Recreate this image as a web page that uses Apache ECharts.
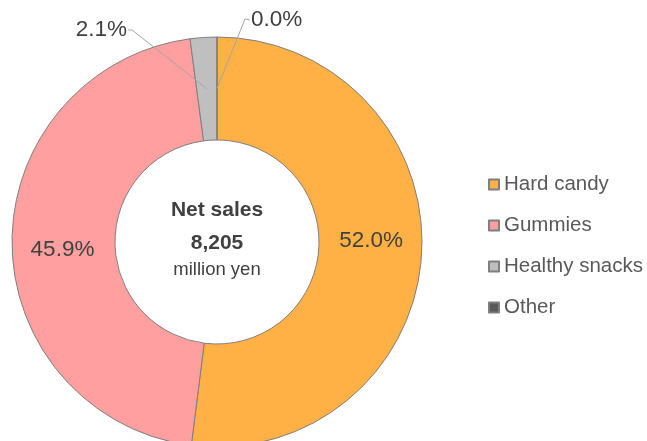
<!DOCTYPE html>
<html>
<head>
<meta charset="utf-8">
<script src="https://cdn.jsdelivr.net/npm/echarts@6/dist/echarts.min.js"></script>
<style>
  html, body { margin: 0; padding: 0; background: #fff; }
  #chart { width: 647px; height: 441px; }
</style>
</head>
<body>
<div id="chart"></div>
<script>
// segment data (share of net sales, %)
const categories = ['Hard candy', 'Gummies', 'Healthy snacks', 'Other'];
const shares = [52.0, 45.9, 2.1, 0.0];
const colors = ['#FFB145', '#FF9F9F', '#BFBFBF', '#595959'];
const centerLines = ['Net sales', '8,205', 'million yen'];

const FONT = '"Liberation Sans", Arial, sans-serif';
const cx = 217, cy = 242, rIn = 102, rOut = 205;
const total = shares.reduce((a, b) => a + b, 0);

// mid-ring point for slice i (clockwise from 12 o'clock)
function midPoint(i) {
    let before = 0;
    for (let k = 0; k < i; k++) before += shares[k];
    const ang = (before + shares[i] / 2) / total * Math.PI * 2;
    const r = (rIn + rOut) / 2;
    return [cx + r * Math.sin(ang), cy - r * Math.cos(ang)];
}

// where the outside labels sit
const outsideLabels = {
    2: { x: 127, y: 30, align: 'right', elbow: [132, 30] },
    3: { x: 251, y: 20, align: 'left', elbow: [245, 19] }
};

// leader lines, drawn above the ring
const leaderLines = Object.keys(outsideLabels).map(k => {
    const i = +k, o = outsideLabels[k];
    return {
        type: 'polyline',
        z: 100,
        silent: true,
        shape: { points: [midPoint(i), o.elbow, [o.x + (o.align === 'right' ? 1 : -1), o.y]] },
        style: { stroke: '#a6a6a6', lineWidth: 1, fill: null }
    };
});

const chart = echarts.init(document.getElementById('chart'));

const option = {
    backgroundColor: '#fff',
    animation: false,
    textStyle: { fontFamily: FONT },
    legend: {
        orient: 'vertical',
        left: 483,
        top: 169,
        icon: 'rect',
        itemWidth: 10,
        itemHeight: 10,
        itemGap: 20,
        data: categories,
        textStyle: { color: '#595959', fontSize: 20.5, fontFamily: FONT }
    },
    graphic: centerLines.map((t, i) => ({
        type: 'text',
        style: {
            text: t,
            x: cx,
            y: [210, 243, 270][i],
            textAlign: 'center',
            textVerticalAlign: 'middle',
            fill: '#404040',
            font: (i < 2 ? 'bold 21px ' : '18.5px ') + FONT
        }
    })).concat(leaderLines),
    series: [{
        type: 'pie',
        center: [cx, cy],
        radius: [rIn, rOut],
        startAngle: 90,
        clockwise: true,
        avoidLabelOverlap: false,
        minShowLabelAngle: 0,
        stillShowZeroSum: true,
        itemStyle: { borderColor: '#7f7f7f', borderWidth: 1 },
        emphasis: { disabled: true },
        label: {
            position: 'inside',
            formatter: p => p.value.toFixed(1) + '%',
            color: '#404040',
            fontSize: 22.5,
            fontFamily: FONT
        },
        labelLine: { show: false },
        data: categories.map((name, i) => ({
            name: name,
            value: shares[i],
            itemStyle: { color: colors[i] }
        })),
        labelLayout: function (params) {
            const i = params.dataIndex;
            const o = outsideLabels[i];
            if (o) {
                return { x: o.x, y: o.y, align: o.align, verticalAlign: 'middle' };
            }
            if (i === 0) return { dx: -2, dy: -11 };
            if (i === 1) return { dx: 2, dy: 7 };
            return {};
        }
    }]
};

chart.setOption(option);
</script>
</body>
</html>
